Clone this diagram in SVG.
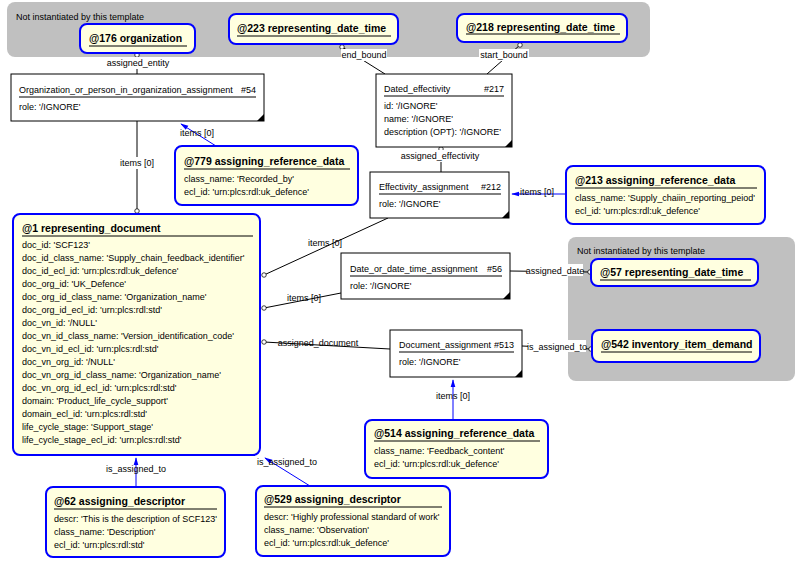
<svg xmlns="http://www.w3.org/2000/svg" width="802" height="565" viewBox="0 0 802 565">
<defs>
<style>
text{font-family:"Liberation Sans",Arial,sans-serif;font-size:9px;fill:#000}
.t{font-weight:bold;font-size:10.5px}
.panel{fill:#c0c0c0}
.ent{fill:#fff;stroke:#000;stroke-width:1}
.tpl{fill:#ffffe0;stroke:#0000ff;stroke-width:2}
.ul{stroke:#000;stroke-width:1}
.c{stroke:#000;stroke-width:1;fill:none}
.b{stroke:#0000ff;stroke-width:1;fill:none}
.lbl{text-anchor:middle}
.bg{fill:#fff}
</style>
<marker id="o" viewBox="0 0 8 8" refX="4" refY="4" markerWidth="6" markerHeight="6" markerUnits="userSpaceOnUse"><circle cx="4" cy="4" r="3" fill="#fff" stroke="#000"/></marker>
<marker id="a" viewBox="0 0 10 10" refX="9" refY="5" markerWidth="8" markerHeight="8" orient="auto" markerUnits="userSpaceOnUse"><path d="M0,2 L10,5 L0,8 z" fill="#0000ff"/></marker>
</defs>
<rect class="panel" x="7" y="2" width="643" height="55" rx="8"/>
<text x="16" y="20">Not instantiated by this template</text>
<rect class="panel" x="568" y="237" width="227" height="144" rx="8"/>
<text x="577" y="254">Not instantiated by this template</text>

<g id="connectors">
<line class="c" x1="137" y1="55" x2="137" y2="74" marker-start="url(#o)"/>
<line class="c" x1="342" y1="47" x2="385" y2="74" marker-start="url(#o)"/>
<line class="c" x1="520" y1="45" x2="487" y2="74" marker-start="url(#o)"/>
<line class="c" x1="441" y1="149" x2="441" y2="172" marker-start="url(#o)"/>
<line class="c" x1="137" y1="121" x2="137" y2="211" marker-end="url(#o)"/>
<line class="b" x1="216" y1="146" x2="181" y2="124" marker-end="url(#a)"/>
<line class="b" x1="566" y1="194" x2="512" y2="194" marker-end="url(#a)"/>
<line class="c" x1="388" y1="218" x2="264" y2="275" marker-end="url(#o)"/>
<line class="c" x1="341" y1="293" x2="264" y2="308" marker-end="url(#o)"/>
<line class="c" x1="510" y1="271" x2="590" y2="272" marker-end="url(#o)"/>
<line class="c" x1="264" y1="342" x2="390" y2="349" marker-start="url(#o)"/>
<line class="c" x1="522" y1="346" x2="591" y2="349" marker-end="url(#o)"/>
<line class="b" x1="453" y1="420" x2="453" y2="380" marker-end="url(#a)"/>
<line class="b" x1="136" y1="487" x2="136" y2="458" marker-end="url(#a)"/>
<line class="b" x1="310" y1="486" x2="265" y2="458" marker-end="url(#a)"/>
<rect class="bg" x="106" y="57" width="64" height="12"/><text class="lbl" x="138" y="66">assigned_entity</text>
<rect class="bg" x="341" y="49" width="46" height="12"/><text class="lbl" x="364" y="58">end_bound</text>
<rect class="bg" x="479" y="49" width="50" height="12"/><text class="lbl" x="504" y="58">start_bound</text>
<rect class="bg" x="401" y="150" width="80" height="12"/><text class="lbl" x="440" y="159">assigned_effectivity</text>
<rect class="bg" x="119" y="157" width="36" height="12"/><text class="lbl" x="137" y="166">items [0]</text>
<text class="lbl" x="197" y="136">items [0]</text>
<text class="lbl" x="537" y="195">items [0]</text>
<text class="lbl" x="325" y="246">items [0]</text>
<text class="lbl" x="304" y="301">items [0]</text>
<rect class="bg" x="527" y="264" width="56" height="12"/><text class="lbl" x="555" y="274">assigned_date</text>
<text class="lbl" x="318" y="346">assigned_document</text>
<rect class="bg" x="528" y="340" width="58" height="12"/><text class="lbl" x="557" y="350">is_assigned_to</text>
<text class="lbl" x="453" y="399">items [0]</text>
<text class="lbl" x="136" y="472">is_assigned_to</text>
<text class="lbl" x="287" y="465">is_assigned_to</text>
</g>

<g id="n176"><rect class="tpl" x="80" y="24" width="115" height="29" rx="7"/><text class="t" x="89" y="42">@176 organization</text><line class="ul" x1="89" y1="46" x2="187" y2="46"/></g>
<g id="n223"><rect class="tpl" x="229" y="14" width="169" height="30" rx="7"/><text class="t" x="237" y="32">@223 representing_date_time</text><line class="ul" x1="237" y1="36" x2="391" y2="36"/></g>
<g id="n218"><rect class="tpl" x="457" y="14" width="170" height="28" rx="7"/><text class="t" x="466" y="31">@218 representing_date_time</text><line class="ul" x1="466" y1="34" x2="620" y2="34"/></g>

<g id="e54"><rect class="ent" x="11" y="74" width="253" height="47"/><text x="19" y="93">Organization_or_person_in_organization_assignment</text><text x="256" y="93" text-anchor="end">#54</text><line class="ul" x1="19" y1="97" x2="256" y2="97"/><text x="19" y="110">role: '/IGNORE'</text><path d="M264,114 L264,121 L257,121 z"/></g>
<g id="e217"><rect class="ent" x="376" y="74" width="136" height="73"/><text x="384" y="92">Dated_effectivity</text><text x="504" y="92" text-anchor="end">#217</text><line class="ul" x1="384" y1="96" x2="504" y2="96"/><text x="384" y="109">id: '/IGNORE'</text><text x="384" y="122">name: '/IGNORE'</text><text x="384" y="135">description (OPT): '/IGNORE'</text><path d="M512,140 L512,147 L505,147 z"/></g>
<g id="e212"><rect class="ent" x="370" y="172" width="139" height="46"/><text x="379" y="190">Effectivity_assignment</text><text x="501" y="190" text-anchor="end">#212</text><line class="ul" x1="379" y1="194" x2="501" y2="194"/><text x="379" y="207">role: '/IGNORE'</text><path d="M509,211 L509,218 L502,218 z"/></g>
<g id="n779"><rect class="tpl" x="175" y="146" width="183" height="59" rx="7"/><text class="t" x="184" y="165">@779 assigning_reference_data</text><line class="ul" x1="184" y1="169" x2="350" y2="169"/><text x="184" y="182">class_name: 'Recorded_by'</text><text x="184" y="195">ecl_id: 'urn:plcs:rdl:uk_defence'</text></g>
<g id="n213"><rect class="tpl" x="566" y="166" width="199" height="58" rx="7"/><text class="t" x="575" y="184">@213 assigning_reference_data</text><line class="ul" x1="575" y1="188" x2="757" y2="188"/><text x="575" y="201">class_name: 'Supply_chaiin_reporting_peiod'</text><text x="575" y="214">ecl_id: 'urn:plcs:rdl:uk_defence'</text></g>

<g id="n1"><rect class="tpl" x="13" y="214" width="247" height="241" rx="7"/><text class="t" x="22" y="232">@1 representing_document</text><line class="ul" x1="22" y1="236" x2="253" y2="236"/>
<text x="22" y="248">doc_id: 'SCF123'</text>
<text x="22" y="261">doc_id_class_name: 'Supply_chain_feedback_identifier'</text>
<text x="22" y="274">doc_id_ecl_id: 'urn:plcs:rdl:uk_defence'</text>
<text x="22" y="287">doc_org_id: 'UK_Defence'</text>
<text x="22" y="300">doc_org_id_class_name: 'Organization_name'</text>
<text x="22" y="313">doc_org_id_ecl_id: 'urn:plcs:rdl:std'</text>
<text x="22" y="326">doc_vn_id: '/NULL'</text>
<text x="22" y="339">doc_vn_id_class_name: 'Version_identification_code'</text>
<text x="22" y="352">doc_vn_id_ecl_id: 'urn:plcs:rdl:std'</text>
<text x="22" y="365">doc_vn_org_id: '/NULL'</text>
<text x="22" y="378">doc_vn_org_id_class_name: 'Organization_name'</text>
<text x="22" y="391">doc_vn_org_id_ecl_id: 'urn:plcs:rdl:std'</text>
<text x="22" y="404">domain: 'Product_life_cycle_support'</text>
<text x="22" y="417">domain_ecl_id: 'urn:plcs:rdl:std'</text>
<text x="22" y="430">life_cycle_stage: 'Support_stage'</text>
<text x="22" y="443">life_cycle_stage_ecl_id: 'urn:plcs:rdl:std'</text></g>

<g id="e56"><rect class="ent" x="341" y="253" width="169" height="46"/><text x="350" y="272">Date_or_date_time_assignment</text><text x="502" y="272" text-anchor="end">#56</text><line class="ul" x1="350" y1="276" x2="502" y2="276"/><text x="350" y="289">role: '/IGNORE'</text><path d="M510,292 L510,299 L503,299 z"/></g>
<g id="n57"><rect class="tpl" x="591" y="259" width="167" height="27" rx="7"/><text class="t" x="600" y="276">@57 representing_date_time</text><line class="ul" x1="600" y1="280" x2="751" y2="280"/></g>
<g id="n542"><rect class="tpl" x="592" y="330" width="168" height="32" rx="7"/><text class="t" x="601" y="348">@542 inventory_item_demand</text><line class="ul" x1="601" y1="352" x2="752" y2="352"/></g>
<g id="e513"><rect class="ent" x="390" y="330" width="132" height="47"/><text x="399" y="348">Document_assignment</text><text x="514" y="348" text-anchor="end">#513</text><line class="ul" x1="399" y1="352" x2="514" y2="352"/><text x="399" y="365">role: '/IGNORE'</text><path d="M522,370 L522,377 L515,377 z"/></g>
<g id="n514"><rect class="tpl" x="365" y="420" width="183" height="58" rx="7"/><text class="t" x="374" y="437">@514 assigning_reference_data</text><line class="ul" x1="374" y1="441" x2="540" y2="441"/><text x="374" y="454">class_name: 'Feedback_content'</text><text x="374" y="467">ecl_id: 'urn:plcs:rdl:uk_defence'</text></g>
<g id="n62"><rect class="tpl" x="46" y="487" width="179" height="70" rx="7"/><text class="t" x="54" y="505">@62 assigning_descriptor</text><line class="ul" x1="54" y1="509" x2="217" y2="509"/><text x="54" y="522">descr: 'This is the description of SCF123'</text><text x="54" y="535">class_name: 'Description'</text><text x="54" y="548">ecl_id: 'urn:plcs:rdl:std'</text></g>
<g id="n529"><rect class="tpl" x="256" y="486" width="194" height="70" rx="7"/><text class="t" x="264" y="503">@529 assigning_descriptor</text><line class="ul" x1="264" y1="507" x2="442" y2="507"/><text x="264" y="520">descr: 'Highly professional standard of work'</text><text x="264" y="533">class_name: 'Observation'</text><text x="264" y="546">ecl_id: 'urn:plcs:rdl:uk_defence'</text></g>
</svg>
